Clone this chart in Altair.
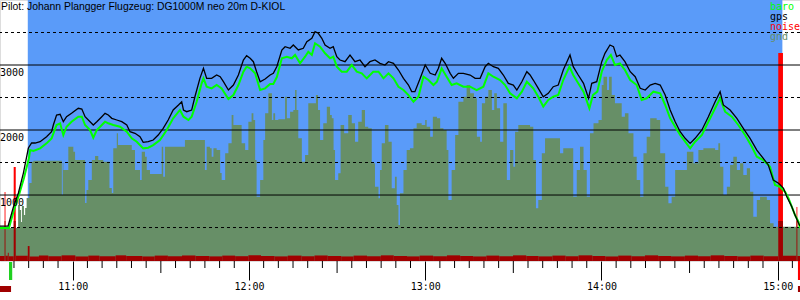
import altair as alt
import pandas as pd

TITLE = "Pilot: Johann Plangger Flugzeug: DG1000M neo 20m D-KIOL"

# time = minutes after 10:00, altitude in metres
gps = [(35.2,523),(38.0,523),(39.8,815),(41.5,1031),(43.2,1338),(44.9,1723),(46.0,1800),(47.2,1800),(48.9,1820),(51.1,1897),
(52.8,1974),(53.4,2077),(54.5,2231),(55.7,2242),(56.8,2128),(57.9,2205),(59.6,2257),(61.9,2334),(63.1,2323),(64.2,2205),
(65.9,2128),(67.0,2077),(68.2,2128),(69.9,2205),(71.0,2257),(72.1,2231),(73.3,2180),(75.0,2154),(76.7,2128),(78.4,2077),
(79.5,1974),(81.2,1949),(82.9,1897),(84.0,1811),(85.7,1820),(87.4,1846),(89.1,1923),(90.8,2026),(92.5,2154),(94.2,2308),
(96.0,2385),(97.1,2435),(97.7,2308),(98.8,2282),(100.5,2308),(101.6,2512),(103.3,2795),(104.5,2949),(105.6,2795),(107.3,2795),
(109.0,2846),(110.2,2820),(111.3,2743),(113.0,2615),(114.7,2692),(116.4,2846),(118.1,3077),(119.2,3143),(120.4,3103),(121.5,3051),
(122.6,2897),(123.8,2743),(125.5,2785),(127.2,2846),(128.3,2872),(129.5,2977),(131.2,3231),(132.3,3282),(134.0,3257),(135.1,3308),
(136.8,3231),(138.5,3257),(139.7,3359),(141.4,3411),(142.5,3513),(143.6,3488),(144.8,3411),(145.9,3308),(147.6,3257),(148.7,3282),
(149.9,3128),(151.0,3077),(152.7,3051),(154.4,3154),(156.1,3051),(157.8,3077),(159.5,2974),(161.2,3051),(162.9,3077),(164.6,3026),
(166.3,3000),(167.5,3051),(169.2,3026),(170.9,2923),(172.6,2795),(174.3,2692),(175.4,2590),(176.5,2590),(178.3,2795),(180.0,3000),
(181.7,2872),(183.4,2846),(184.5,2949),(185.6,3103),(186.8,3026),(188.5,2872),(189.6,2795),(191.3,2872),(193.0,2872),(195.3,2846),
(197.0,2795),(198.7,2795),(200.4,2974),(201.5,3026),(203.2,2974),(204.9,2949),(206.6,2846),(208.3,2718),(210.0,2692),(211.2,2615),
(212.9,2743),(214.6,2897),(215.7,2846),(216.8,2769),(218.5,2641),(220.2,2512),(221.9,2564),(223.6,2666),(225.3,2692),(227.0,2923),
(229.3,3154),(230.4,2974),(232.1,2846),(233.9,2718),(235.6,2488),(236.7,2718),(238.4,2743),(240.1,3051),(241.2,3180),(242.9,3308),
(244.1,3282),(245.2,3128),(246.3,3154),(248.0,3051),(249.8,2897),(251.5,2820),(253.2,2641),(254.9,2615),(256.6,2692),(258.3,2718),
(260.0,2692),(261.7,2538),(263.4,2308),(265.1,2128),(266.8,1974),(268.5,1872),(270.2,1795),(271.9,1872),(274.2,2000),(276.4,2205),
(278.7,2435),(280.4,2590),(281.5,2385),(283.8,2308),(286.1,2180),(288.3,2026),(290.6,1872),(292.9,1692),(295.1,1565),(296.8,1462),
(298.5,1231),(300.3,1180),(302.0,1103),(303.1,974),(304.8,820),(305.9,692),(307.1,565),(307.6,523)]

baro = [(35.2,492),(38.3,492),(40.0,769),(41.7,1000),(43.4,1262),(45.1,1569),(45.5,1692),(46.6,1677),(48.9,1718),(51.1,1795),
(52.8,1872),(54.5,2077),(55.7,2103),(56.8,1923),(57.9,2051),(59.6,2128),(61.9,2205),(63.1,2205),(64.2,2077),(65.9,2000),
(67.0,1882),(68.2,2000),(69.9,2077),(71.0,2128),(72.1,2103),(73.8,2077),(76.1,2051),(78.4,1974),(80.1,1872),(81.8,1820),
(84.0,1718),(85.7,1728),(87.4,1769),(89.7,1846),(92.0,2000),(94.2,2180),(96.5,2308),(97.7,2205),(99.4,2154),(100.5,2205),
(102.2,2435),(103.9,2718),(104.5,2795),(105.6,2666),(107.3,2641),(109.0,2692),(110.7,2641),(113.0,2477),(114.7,2538),(116.4,2692),
(118.1,2897),(119.2,2974),(120.4,2949),(122.1,2872),(123.8,2615),(125.5,2641),(127.2,2708),(128.3,2708),(129.5,2815),(131.2,3103),
(132.9,3128),(134.6,3103),(135.7,3154),(137.4,3026),(139.1,3128),(140.2,3205),(141.4,3154),(142.5,3334),(144.2,3282),(145.9,3180),
(147.6,3103),(148.7,3128),(149.9,2974),(151.6,2897),(153.3,2897),(155.0,3000),(156.7,2897),(158.4,2872),(160.1,2795),(162.3,2897),
(164.1,2897),(165.8,2795),(167.5,2872),(169.2,2795),(170.9,2666),(172.6,2615),(174.3,2538),(176.0,2435),(177.7,2512),(179.4,2820),
(181.1,2769),(182.8,2692),(184.0,2743),(185.6,2949),(187.3,2820),(189.0,2692),(190.7,2718),(193.0,2666),(195.3,2666),(197.5,2615),
(199.8,2666),(201.5,2872),(203.2,2820),(205.5,2769),(207.2,2692),(208.9,2564),(211.2,2488),(212.9,2590),(214.6,2743),(215.7,2692),
(216.8,2641),(218.5,2512),(220.2,2359),(221.9,2462),(223.6,2512),(225.3,2538),(227.0,2769),(229.1,2974),(230.4,2846),(232.1,2718),
(233.9,2590),(235.9,2334),(237.1,2538),(238.6,2590),(240.1,2897),(241.8,3077),(243.2,3154),(244.6,3000),(246.3,3026),(248.0,2923),
(249.8,2769),(252.0,2692),(253.7,2462),(255.4,2488),(257.7,2590),(260.0,2564),(261.7,2385),(263.4,2180),(265.1,2051),(266.8,1923),
(268.5,1820),(270.2,1718),(271.9,1820),(274.2,1923),(276.4,2128),(278.7,2334),(280.4,2488),(282.1,2282),(284.4,2205),(286.6,2077),
(288.9,1923),(291.2,1743),(292.9,1589),(295.1,1538),(297.4,1435),(299.1,1154),(300.8,1128),(302.5,1051),(303.7,949),(304.8,820),
(305.9,692),(307.1,589),(307.6,492)]

gnd = [(35.2,492),(41.4,846),(42.0,769),(42.4,585),(42.7,831),(43.4,692),(43.8,800),(44.3,954),(45.2,1185),(46.0,1512),(46.6,1528),
(56.3,1000),(56.6,1492),(56.8,1385),(58.5,1743),(60.2,1666),(60.8,1538),(64.2,877),(64.7,1077),(65.3,1231),(66.5,1538),
(67.6,1600),(68.7,1538),(70.4,1512),(72.5,1108),(73.3,1031),(73.8,1718),(75.0,1949),(75.4,1769),(80.1,1692),(81.2,1385),
(82.9,1231),(83.5,1666),(84.6,1589),(85.2,1385),(86.3,1323),(90.3,1743),(90.8,1282),(91.4,1743),(98.2,1846),(105.0,1385),
(105.6,1743),(106.7,1718),(107.3,1589),(107.9,1718),(109.0,1692),(110.2,1338),(110.7,1231),(111.9,1642),(113.0,1795),(114.1,2231),
(114.7,2077),(117.5,1795),(118.7,1692),(119.8,2128),(120.9,2257),(121.5,2154),(122.1,1538),(122.6,974),(123.8,1231),(124.9,1846),
(125.5,2257),(126.6,2565),(127.8,2154),(128.3,2257),(128.9,2154),(130.0,2165),(132.3,2512),(132.9,2180),(134.0,2282),(135.1,2308),
(135.7,2615),(136.2,2308),(136.8,1872),(138.0,1512),(139.1,1615),(140.2,2411),(142.8,2538),(143.5,2308),(144.2,1846),(145.3,2103),
(146.5,2359),(147.6,2231),(148.2,2180),(148.8,1692),(149.3,1231),(150.4,1334),(151.2,2077),(152.4,1949),(153.8,2231),(155.0,2103),
(156.1,1820),(157.2,2128),(158.4,2308),(159.5,2051),(160.6,2026),(161.8,1488),(162.9,1128),(164.1,949),(164.6,1385),(165.2,1795),
(166.3,2077),(167.5,1820),(168.6,1103),(169.7,1282),(170.3,846),(170.9,538),(171.4,1026),(172.6,1385),(173.7,1692),(174.8,1718),
(176.0,2026),(177.1,2103),(178.8,2077),(180.0,2154),(180.5,2051),(181.7,1897),(182.6,2205),(184.0,2180),(185.1,2026),(186.2,2000),
(187.3,1692),(187.9,923),(189.0,1385),(190.2,1923),(191.3,2435),(193.0,2512),(194.1,2692),(195.3,2565),(196.6,2488),(197.6,1897),
(198.7,1820),(199.3,2411),(200.4,2512),(201.5,2615),(202.7,2308),(203.5,2565),(204.4,2334),(205.5,1820),(206.6,2411),(207.8,1231),
(208.9,1692),(210.0,1435),(210.6,1974),(211.7,2077),(215.7,2051),(216.8,1538),(217.7,795),(218.5,923),(219.7,1642),(220.8,1872),
(225.9,1642),(227.0,1718),(230.4,974),(231.6,1385),(232.7,1743),(233.9,1385),(235.0,974),(236.1,1949),(237.3,2103),(239.0,2154),
(240.1,2692),(240.7,2820),(241.9,2615),(242.6,2820),(243.5,2538),(244.6,2411),(246.9,2205),(248.0,2257),(249.2,1949),(250.9,1589),
(252.0,1231),(253.2,974),(254.3,1642),(255.4,1897),(256.6,2180),(258.8,2154),(260.0,1642),(261.7,1128),(262.8,872),(263.9,974),
(265.1,1385),(269.1,1666),(271.3,1488),(273.0,1692),(274.7,1718),(278.7,1692),(279.8,1795),(280.4,1435),(281.5,1000),(282.7,1128),
(283.8,1462),(284.9,1589),(286.1,1385),(287.2,1488),(288.3,1308),(289.5,1411),(290.6,1051),(291.7,666),(292.9,923),(294.0,974),
(296.3,923),(297.4,565),(298.6,512),(307.6,492)]

noise = [(35.2,62),(36.8,1046),(37.1,66),(37.9,110),(38.2,58),(39.9,1430),(40.6,66),(44.7,215),(45.3,55),(48.5,68),
(51.7,58),(56.2,72),(60.9,55),(65.3,68),(69.1,58),(74.6,72),(78.2,62),(83.7,55),(87.9,68),(92.4,58),(97.2,70),(101.8,62),
(106.5,56),(110.9,68),(115.3,59),(119.8,72),(124.1,62),(128.7,56),(133.2,68),(137.9,58),(142.3,70),(146.8,62),(151.4,55),
(155.6,68),(160.2,58),(164.9,72),(169.3,62),(173.8,56),(178.1,68),(182.7,58),(187.4,72),(191.9,62),(196.3,55),(200.8,68),
(205.2,58),(209.9,72),(214.4,62),(218.6,56),(223.3,68),(227.8,58),(232.2,72),(236.9,62),(241.3,55),(245.7,68),(250.2,58),
(254.8,72),(259.3,62),(263.7,56),(268.4,68),(272.9,58),(277.2,72),(281.8,62),(286.3,55),(290.7,68),(295.2,58),(300.2,3185),
(301.8,66),(306.4,815),(306.7,62),(307.6,62)]

grid_solid = [1000, 2000, 3000]
grid_dashed = [500, 1500, 2500, 3500]
hour_ticks = [60, 120, 180, 240, 300]
half_ticks = [90, 150, 210, 270]
minor_ticks = [t for t in range(40, 306, 5) if t % 30 != 0]
flight_start, flight_end = 44.7, 301.6
legend_items = [("baro", "#00ff00"), ("gps", "#000000"), ("noise", "#ff0000"), ("gnd", "#678f67")]

BLUE = "#5a9bf9"
GND = "#678f67"
DARKRED = "#a00000"
W, H = 800, 261

xs = alt.Scale(domain=[35.24, 307.6], nice=False, zero=False)
ys = alt.Scale(domain=[-15, 4000], nice=False, zero=False)
xaxis = alt.Axis(values=hour_ticks, labelExpr="(10 + floor(datum.value/60)) + ':00'",
                 tickSize=19, tickColor="black", domain=False, grid=False,
                 labelFont="DejaVu Sans Mono", labelFontSize=10, labelColor="black",
                 labelPadding=1, title=None)


def X(field="t"):
    return alt.X(f"{field}:Q", scale=xs, axis=xaxis)


def Y(field="v"):
    return alt.Y(f"{field}:Q", scale=ys, axis=None)


def df(pairs):
    return pd.DataFrame({"t": [p[0] for p in pairs], "v": [p[1] for p in pairs]})


def steps(pairs):
    # each value holds until the next time stamp
    return alt.Chart(df(pairs)).transform_window(
        t2="lead(t)", sort=[alt.SortField("t")]
    ).transform_filter("datum.t2 != null")


one = pd.DataFrame({"a": [0]})

sky = alt.Chart(pd.DataFrame({"t": [flight_start], "t2": [flight_end]})).mark_rect(color=BLUE).encode(
    x=X(), x2="t2:Q", y=alt.value(0), y2=alt.value(H))

noise_red = steps(noise).mark_rect(color="#ff0000").encode(
    x=X(), x2="t2:Q", y=Y(), y2=alt.value(H))

ground = alt.Chart(df(gnd)).mark_area(color=GND, interpolate="step-after").encode(
    x=X(), y=Y(), y2=alt.value(H))

noise_dark = steps(noise).transform_calculate(vd="min(datum.v, 600)").mark_rect(color=DARKRED).encode(
    x=X(), x2="t2:Q", y=Y("vd"), y2=alt.value(H))

solid = alt.Chart(pd.DataFrame({"v": grid_solid})).mark_rule(color="black", strokeWidth=1).encode(y=Y())
dashed = alt.Chart(pd.DataFrame({"v": grid_dashed})).mark_rule(color="black", strokeWidth=1, strokeDash=[3, 3]).encode(y=Y())

baro_line = alt.Chart(df(baro)).mark_line(color="#00ff00", strokeWidth=2).encode(x=X(), y=Y())
gps_line = alt.Chart(df(gps)).mark_line(color="black", strokeWidth=1.3).encode(x=X(), y=Y())

ylabels = alt.Chart(pd.DataFrame({"v": grid_solid})).mark_text(
    align="left", baseline="alphabetic", dy=11, font="DejaVu Sans Mono", fontSize=10, color="black").encode(
    x=alt.value(0), y=Y(), text="v:Q")

minor = alt.Chart(pd.DataFrame({"t": minor_ticks})).mark_rule(color="black").encode(
    x=X(), y=alt.value(H), y2=alt.value(H + 7))
half = alt.Chart(pd.DataFrame({"t": half_ticks})).mark_rule(color="black").encode(
    x=X(), y=alt.value(H), y2=alt.value(H + 12))

takeoff = alt.Chart(pd.DataFrame({"t": [38.3], "t2": [39.4]})).mark_rect(color="#20d020").encode(
    x=X(), x2="t2:Q", y=alt.value(H + 1), y2=alt.value(H + 19))
landing = alt.Chart(pd.DataFrame({"t": [306.9], "t2": [307.6]})).mark_rect(color="#ff0000").encode(
    x=X(), x2="t2:Q", y=alt.value(H), y2=alt.value(H + 19))
engine = alt.Chart(pd.DataFrame({"t": [35.24, 306.9], "t2": [39.0, 307.6]})).mark_rect(color=DARKRED).encode(
    x=X(), x2="t2:Q", y=alt.value(H + 25), y2=alt.value(H + 31))

title = alt.Chart(one).mark_text(align="left", baseline="alphabetic", font="Liberation Sans",
                                 fontSize=10.4, color="black").encode(
    x=alt.value(1), y=alt.value(10), text=alt.value(TITLE))

legend_layers = []
for i, (name, col) in enumerate(legend_items):
    legend_layers.append(alt.Chart(one).mark_text(align="left", baseline="alphabetic",
                                                  font="DejaVu Sans Mono", fontSize=10, color=col).encode(
        x=alt.value(770), y=alt.value(10 + 10 * i), text=alt.value(name)))

chart = alt.layer(sky, noise_red, ground, noise_dark, solid, dashed, baro_line, gps_line,
                  ylabels, minor, half, takeoff, landing, engine, title, *legend_layers).properties(
    width=W, height=H, padding={"left": 0, "top": 0, "right": 0, "bottom": 39},
    autosize=alt.AutoSizeParams(type="none")
).configure_view(strokeWidth=0).configure(background="white")

chart.save("out.html", embed_options={"renderer": "svg", "actions": False})
